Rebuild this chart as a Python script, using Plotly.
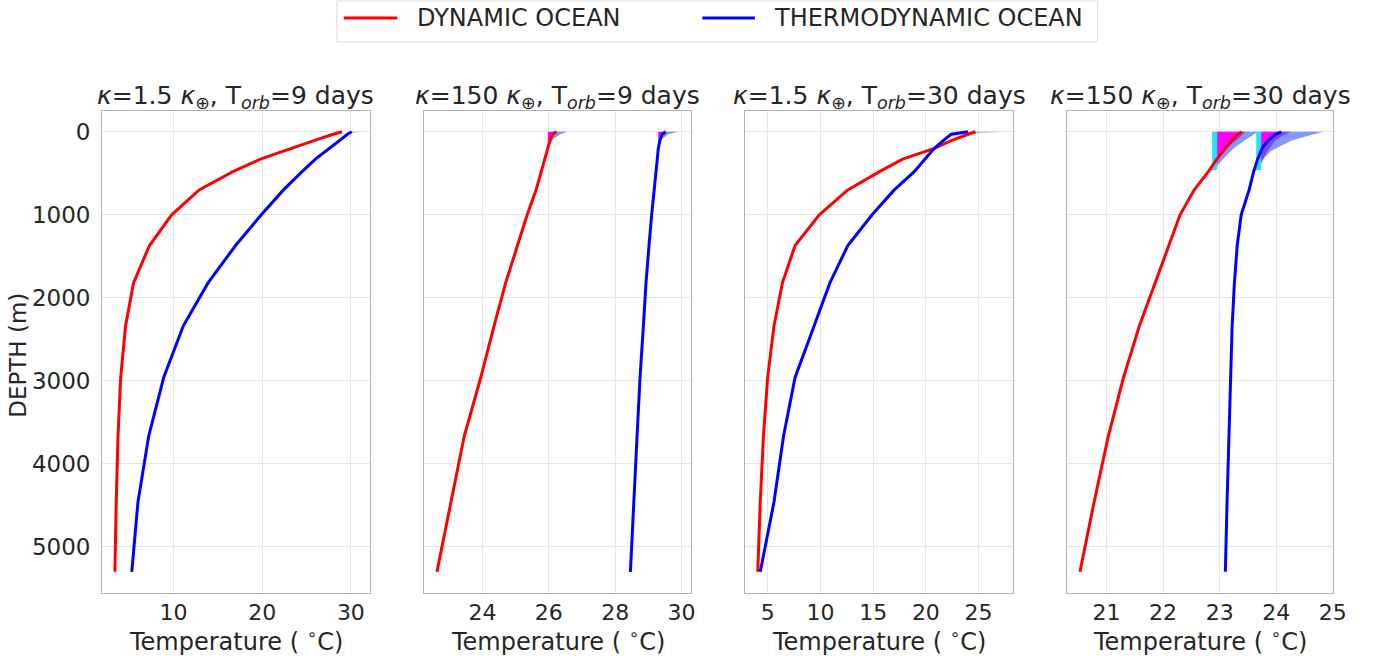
import numpy as np
import plotly.graph_objects as go

W, H = 1390, 656

# model depth levels (m)
depth = [0, 30, 100, 200, 330, 480, 700, 1000, 1370, 1820, 2340, 2960, 3670, 4460, 5300]

# temperature profiles (deg C) for each experiment
dyn_k15_t9 = [29.0, 28.0, 26.0, 23.4, 19.8, 16.7, 12.9, 9.8, 7.3, 5.5, 4.6, 4.05, 3.75, 3.55, 3.4]
thermo_k15_t9 = [30.1, 29.6, 28.8, 27.6, 26.0, 24.5, 22.4, 19.9, 17.0, 13.9, 11.1, 8.9, 7.2, 6.0, 5.3]

dyn_k150_t9 = [26.23, 26.12, 26.04, 25.97, 25.88, 25.78, 25.62, 25.35, 25.05, 24.7, 24.35, 23.95, 23.45, 23.05, 22.63]
thermo_k150_t9 = [29.52, 29.42, 29.35, 29.3, 29.27, 29.23, 29.18, 29.1, 29.02, 28.93, 28.85, 28.75, 28.66, 28.57, 28.46]

dyn_k15_t30 = [24.7, 24.0, 22.5, 20.8, 17.8, 15.6, 12.6, 9.9, 7.6, 6.4, 5.6, 5.0, 4.6, 4.3, 4.06]
thermo_k15_t30 = [24.0, 22.4, 21.7, 20.8, 19.9, 18.9, 17.0, 14.9, 12.6, 10.9, 9.4, 7.6, 6.5, 5.6, 4.3]

dyn_k150_t30 = [23.39, 23.33, 23.22, 23.1, 22.95, 22.8, 22.55, 22.3, 22.1, 21.85, 21.58, 21.3, 21.03, 20.78, 20.53]
thermo_k150_t30 = [24.09, 23.99, 23.86, 23.75, 23.67, 23.6, 23.52, 23.38, 23.31, 23.26, 23.22, 23.19, 23.16, 23.13, 23.1]

titles = [
    "<i>κ</i>=1.5 <i>κ</i><sub>⊕</sub>, T<sub><i>orb</i></sub>=9 days",
    "<i>κ</i>=150 <i>κ</i><sub>⊕</sub>, T<sub><i>orb</i></sub>=9 days",
    "<i>κ</i>=1.5 <i>κ</i><sub>⊕</sub>, T<sub><i>orb</i></sub>=30 days",
    "<i>κ</i>=150 <i>κ</i><sub>⊕</sub>, T<sub><i>orb</i></sub>=30 days",
]

# near-surface spread of the profiles (depth, lower / upper temperature)
spread_k15_t9_depth = [0, 15, 40]
spread_k15_t9_hi = [31.2, 30.3, 29.5]

spread_k150_t9_depth = [0, 30, 80, 170]
spread_k150_t9_dyn_min = [25.97, 25.97, 25.97, 25.97]
spread_k150_t9_dyn_mid = [26.3, 26.15, 26.05, 25.99]
spread_k150_t9_dyn_max = [26.56, 26.35, 26.15, 26.0]
spread_k150_t9_thermo_min = [29.3, 29.3, 29.3, 29.3]
spread_k150_t9_thermo_mid = [29.55, 29.45, 29.38, 29.32]
spread_k150_t9_thermo_max = [29.9, 29.6, 29.42, 29.33]

spread_k15_t30_depth = [0, 20, 48]
spread_k15_t30_hi = [27.4, 24.6, 22.4]

spread_k150_t30_dyn_depth = [0, 100, 200, 300, 400, 460]
spread_k150_t30_dyn_min = [22.94, 22.94, 22.94, 22.94, 22.94, 22.94]
spread_k150_t30_dyn_mid = [23.46, 23.3, 23.12, 22.99, 22.95, 22.94]
spread_k150_t30_dyn_max = [23.68, 23.45, 23.25, 23.1, 22.97, 22.93]
spread_k150_t30_dyn_cold = 22.91

spread_k150_t30_thermo_depth = [0, 50, 108, 228, 384, 468]
spread_k150_t30_thermo_min = [23.72, 23.72, 23.72, 23.72, 23.72, 23.72]
spread_k150_t30_thermo_mid = [24.25, 24.1, 23.98, 23.85, 23.73, 23.72]
spread_k150_t30_thermo_max = [24.82, 24.55, 24.26, 23.91, 23.68, 23.65]
spread_k150_t30_thermo_cold = 23.69

x_ranges = [[1.95, 32.1], [22.24, 30.3], [2.85, 28.3], [20.3, 25.01]]
x_dticks = [10, 2, 5, 1]
panel_px = [(103, 373), (428, 698), (752, 1023), (1077, 1346)]
plot_top, plot_bot = 111, 593

RED = "#ff0000"
BLUE = "#0000ff"
MAGENTA = "rgb(255,0,255)"
FAN = "rgba(70,105,255,0.68)"
CYAN = "#1fe6ff"
TXT = "#262626"
FONT = "DejaVu Sans"


def px_x(p):
    return p / W


def px_y(p):
    return 1 - p / H


fig = go.Figure()


def band(ax, d, lo, hi, color):
    fig.add_trace(go.Scatter(
        x=list(lo) + list(hi)[::-1], y=list(d) + list(d)[::-1],
        xaxis=ax[0], yaxis=ax[1], mode="lines", fill="toself",
        fillcolor=color, line=dict(width=0), hoverinfo="skip", showlegend=False))


def profile(ax, t, color):
    fig.add_trace(go.Scatter(
        x=t, y=depth, xaxis=ax[0], yaxis=ax[1], mode="lines",
        line=dict(color=color, width=3), showlegend=False))


axes = [("x", "y"), ("x2", "y2"), ("x3", "y3"), ("x4", "y4")]

# panel 1
band(axes[0], spread_k15_t9_depth, np.interp(spread_k15_t9_depth, depth, thermo_k15_t9),
     spread_k15_t9_hi, "rgba(90,110,255,0.35)")
profile(axes[0], dyn_k15_t9, RED)
profile(axes[0], thermo_k15_t9, BLUE)

# panel 2
d = spread_k150_t9_depth
band(axes[1], d, spread_k150_t9_dyn_min, spread_k150_t9_dyn_mid, MAGENTA)
band(axes[1], d, np.interp(d, depth, dyn_k150_t9), spread_k150_t9_dyn_max, FAN)
band(axes[1], d, spread_k150_t9_thermo_min, spread_k150_t9_thermo_mid, MAGENTA)
band(axes[1], d, np.interp(d, depth, thermo_k150_t9), spread_k150_t9_thermo_max, FAN)
profile(axes[1], dyn_k150_t9, RED)
profile(axes[1], thermo_k150_t9, BLUE)

# panel 3
band(axes[2], spread_k15_t30_depth, np.interp(spread_k15_t30_depth, depth, thermo_k15_t30),
     spread_k15_t30_hi, "rgba(100,100,255,0.45)")
profile(axes[2], dyn_k15_t30, RED)
profile(axes[2], thermo_k15_t30, BLUE)

# panel 4
d = spread_k150_t30_dyn_depth
band(axes[3], d, spread_k150_t30_dyn_min, spread_k150_t30_dyn_mid, MAGENTA)
band(axes[3], d, np.interp(d, depth, dyn_k150_t30), spread_k150_t30_dyn_max, FAN)
fig.add_trace(go.Scatter(x=[spread_k150_t30_dyn_cold] * 2, y=[0, 450], xaxis="x4", yaxis="y4",
                         mode="lines", line=dict(color=CYAN, width=5), showlegend=False))
d = spread_k150_t30_thermo_depth
band(axes[3], d, spread_k150_t30_thermo_min, spread_k150_t30_thermo_mid, MAGENTA)
band(axes[3], d, np.interp(d, depth, thermo_k150_t30), spread_k150_t30_thermo_max, FAN)
fig.add_trace(go.Scatter(x=[spread_k150_t30_thermo_cold] * 2, y=[0, 460], xaxis="x4", yaxis="y4",
                         mode="lines", line=dict(color=CYAN, width=5), showlegend=False))
profile(axes[3], dyn_k150_t30, RED)
profile(axes[3], thermo_k150_t30, BLUE)

layout = dict(
    width=W, height=H, margin=dict(l=0, r=0, t=0, b=0),
    paper_bgcolor="white", plot_bgcolor="white", showlegend=False,
    font=dict(family=FONT, color=TXT, size=22),
)
grid = "#e6e6e6"
for i, (x0, x1) in enumerate(panel_px):
    sfx = "" if i == 0 else str(i + 1)
    layout["xaxis" + sfx] = dict(
        domain=[px_x(x0), px_x(x1)], anchor="y" + sfx, range=x_ranges[i],
        tick0=0, dtick=x_dticks[i], showgrid=True, gridcolor=grid, gridwidth=1,
        showline=True, mirror=True, linecolor="#b3b3b3", linewidth=1, zeroline=False,
        ticks="", tickfont=dict(size=22, color=TXT), ticklabelstandoff=0,
    )
    layout["yaxis" + sfx] = dict(
        domain=[px_y(plot_bot), px_y(plot_top)], anchor="x" + sfx,
        range=[5555, -250], tick0=0, dtick=1000,
        showgrid=True, gridcolor=grid, gridwidth=1, zeroline=False,
        showline=True, mirror=True, linecolor="#b3b3b3", linewidth=1,
        ticks="", showticklabels=(i == 0), tickfont=dict(size=23, color=TXT),
        ticklabelstandoff=6,
    )
fig.update_layout(**layout)

# axis labels
for i, (x0, x1) in enumerate(panel_px):
    fig.add_annotation(text="Temperature ( <sup>∘</sup>C)", xref="paper", yref="paper",
                       x=px_x((x0 + x1) / 2), y=px_y(640), xanchor="center", yanchor="middle",
                       showarrow=False, font=dict(size=24, color=TXT))
fig.add_annotation(text="DEPTH (m)", xref="paper", yref="paper", x=px_x(18), y=px_y(355),
                   xanchor="center", yanchor="middle", textangle=-90,
                   showarrow=False, font=dict(size=23, color=TXT))

# panel titles
for i, (x0, x1) in enumerate(panel_px):
    fig.add_annotation(text=titles[i], xref="paper", yref="paper",
                       x=px_x((x0 + x1) / 2), y=px_y(97), xanchor="center", yanchor="middle",
                       showarrow=False, font=dict(size=25, color=TXT))

# legend box with the two series
fig.add_shape(type="rect", xref="paper", yref="paper",
              x0=px_x(340), x1=px_x(1108), y0=px_y(42), y1=px_y(1),
              line=dict(color="#dcdcdc", width=1), fillcolor="white", layer="above")
fig.add_shape(type="line", xref="paper", yref="paper", x0=px_x(347), x1=px_x(401),
              y0=px_y(18), y1=px_y(18), line=dict(color=RED, width=3))
fig.add_shape(type="line", xref="paper", yref="paper", x0=px_x(709), x1=px_x(762),
              y0=px_y(18), y1=px_y(18), line=dict(color=BLUE, width=3))
fig.add_annotation(text="DYNAMIC OCEAN", xref="paper", yref="paper", x=px_x(419), y=px_y(18),
                   xanchor="left", yanchor="middle", showarrow=False, font=dict(size=24, color=TXT))
fig.add_annotation(text="THERMODYNAMIC OCEAN", xref="paper", yref="paper", x=px_x(779), y=px_y(18),
                   xanchor="left", yanchor="middle", showarrow=False, font=dict(size=24, color=TXT))

fig.write_html("out.html")
